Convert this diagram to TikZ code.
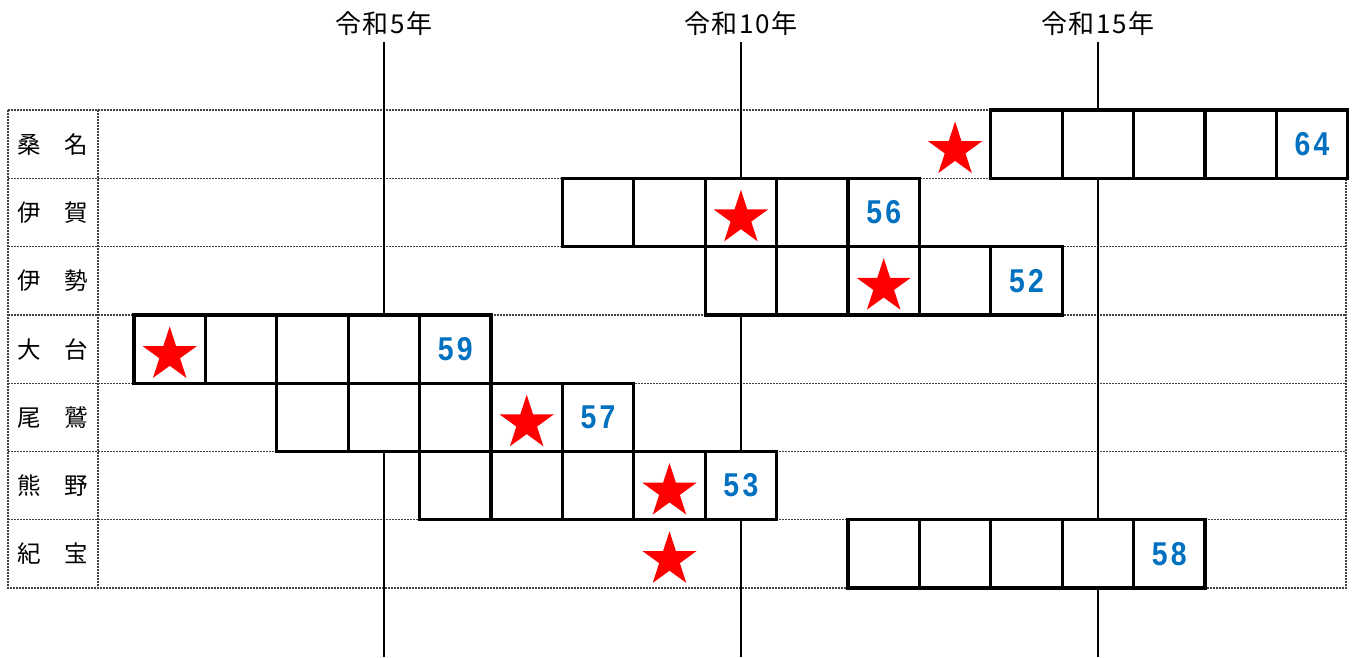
\documentclass[tikz,border=0pt]{standalone}
\usepackage{fontspec}
\setmainfont{Noto Sans CJK JP}
\newfontfamily\numfont[FakeStretch=0.86,LetterSpace=10]{Liberation Sans}
\newfontfamily\yearfont[LetterSpace=6]{Noto Sans CJK JP}
\usetikzlibrary{shapes.geometric}
\definecolor{numblue}{RGB}{0,112,192}

\begin{document}
\begin{tikzpicture}[x=1pt,y=-1pt,
    cell/.style={draw,line width=3.3pt,fill=white,minimum width=71.4pt,
      minimum height=68.3pt,inner sep=0pt},
    mark star/.style={star,star points=5,star point ratio=2.618,
      minimum size=57pt,inner sep=0pt,fill=red},
    grid line/.style={gray!50!black,line width=1.3pt,dash pattern=on 2pt off 1pt},
    year line/.style={black,line width=1.5pt},
    yearlabel/.style={font=\yearfont\fontsize{26}{26}\selectfont,inner sep=0pt},
    rowname/.style={font=\fontsize{23.5}{23.5}\selectfont,inner sep=0pt},
    numtext/.style={font=\numfont\bfseries\fontsize{33}{33}\selectfont,
      text=numblue,inner sep=0pt}]
  \useasboundingbox (0,0) rectangle (1353,657);
  % table frame
  \draw[grid line] (8,110) rectangle (1346,588);
  \draw[grid line] (98,110) -- (98,588);
  \foreach \r in {1,...,6}
    \draw[grid line] (8,{110+68.3*\r}) -- (1346,{110+68.3*\r});
  % year marks
  \foreach \y/\x/\txt in {5/384/令和5年,10/741/令和10年,15/1098/令和15年}{
    \node[yearlabel] (y\y) at (\x,23.5) {\txt};
    \coordinate (y\y t) at (\x,42);
    \coordinate (y\y b) at (\x,657);
    \draw[year line] (y\y t) -- (y\y b);
  }
  % rows
  \foreach \i/\rname/\first/\starcol/\val in {0/桑　名/12/11/64,1/伊　賀/6/8/56,
      2/伊　勢/8/10/52,3/大　台/0/0/59,4/尾　鷲/2/5/57,5/熊　野/4/7/53,6/紀　宝/10/7/58}{
    \node[rowname] (n\i) at (53,{144.15+68.3*\i}) {\rname};
    \foreach \k in {0,...,4}
      \node[cell] (c\i-\k) at ({134+71.4*(\first+\k+0.5)},{144.15+68.3*\i}) {};
    \node[numtext] (v\i) at (c\i-4) {\val};
    \node[mark star] (s\i) at ({134+71.4*(\starcol+0.5)},{150+68.3*\i}) {};
  }
\end{tikzpicture}
\end{document}
